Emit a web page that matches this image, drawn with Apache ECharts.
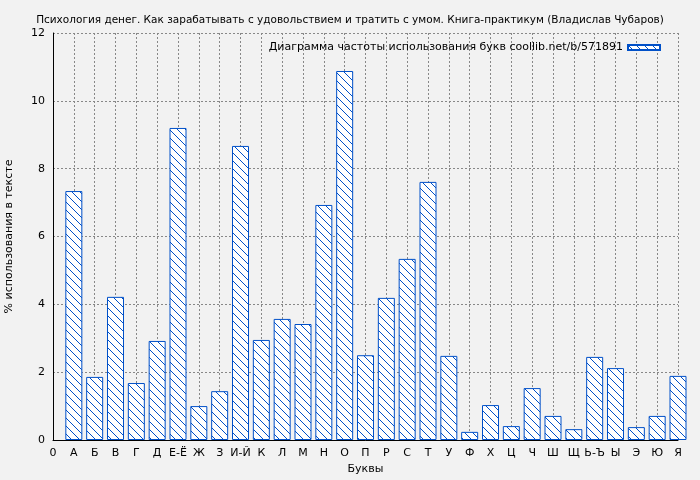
<!DOCTYPE html>
<html><head><meta charset="utf-8">
<script src="https://cdn.jsdelivr.net/npm/echarts@6/dist/echarts.min.js"></script>
<style>html,body{margin:0;background:#f2f2f2}#c{width:700px;height:480px}</style>
</head><body><div id="c"></div>
<script>
var letters = ['0','А','Б','В','Г','Д','Е-Ё','Ж','З','И-Й','К','Л','М','Н','О','П','Р','С','Т','У','Ф','Х','Ц','Ч','Ш','Щ','Ь-Ъ','Ы','Э','Ю','Я'];
var values = [7.34,1.86,4.22,1.68,2.92,9.2,1.0,1.44,8.67,2.95,3.57,3.42,6.93,10.88,2.5,4.19,5.34,7.61,2.48,0.24,1.03,0.41,1.53,0.71,0.32,2.45,2.12,0.38,0.71,1.89];

// hatch pattern
var pc = document.createElement('canvas');
pc.width = 8; pc.height = 8;
var g = pc.getContext('2d');
g.fillStyle = '#ffffff'; g.fillRect(0, 0, 8, 8);
g.strokeStyle = '#0050c8'; g.lineWidth = 1;
g.beginPath();
g.moveTo(-4, 4); g.lineTo(4, 12);
g.moveTo(0, 0); g.lineTo(8, 8);
g.moveTo(4, -4); g.lineTo(12, 4);
g.stroke();
var hatch = { image: pc, repeat: 'repeat' };

var data = values.map(function (v, i) { return [i + 1, v]; });
var chart = echarts.init(document.getElementById('c'));
chart.setOption({
  backgroundColor: '#f2f2f2',
  animation: false,
  title: {
    text: 'Психология денег. Как зарабатывать с удовольствием и тратить с умом. Книга-практикум (Владислав Чубаров)',
    left: 'center', top: 10,
    textStyle: { fontSize: 10.5, fontWeight: 'normal', color: '#000', fontFamily: 'DejaVu Sans' }
  },
  legend: {
    top: 37, right: 34, itemWidth: 32, itemHeight: 5, align: 'right',
    textStyle: { fontSize: 11, color: '#000', fontFamily: 'DejaVu Sans' },
    data: [{ name: 'Диаграмма частоты использования букв coollib.net/b/571891', icon: 'rect' }]
  },
  grid: { left: 53, right: 22, top: 33, bottom: 40, outerBoundsMode: 'none' },
  xAxis: {
    type: 'value', min: 0, max: 30, interval: 1,
    name: 'Буквы', nameLocation: 'middle', nameGap: 24,
    nameTextStyle: { fontSize: 11, color: '#000', fontFamily: 'DejaVu Sans' },
    axisLine: { lineStyle: { color: '#000' } },
    axisTick: { show: false },
    axisLabel: { color: '#000', fontSize: 11, fontFamily: 'DejaVu Sans', formatter: function (v) { return letters[v]; } },
    splitLine: { show: true, lineStyle: { color: '#888', type: [2, 2] } }
  },
  yAxis: {
    type: 'value', min: 0, max: 12, interval: 2,
    name: '% использования в тексте', nameLocation: 'middle', nameGap: 38,
    nameTextStyle: { fontSize: 11, color: '#000', fontFamily: 'DejaVu Sans' },
    axisLine: { show: true, lineStyle: { color: '#000' } },
    axisTick: { show: false },
    axisLabel: { color: '#000', fontSize: 11, fontFamily: 'DejaVu Sans' },
    splitLine: { show: true, lineStyle: { color: '#888', type: [2, 2] } }
  },
  series: [{
    name: 'Диаграмма частоты использования букв coollib.net/b/571891',
    type: 'bar', barWidth: 17, data: data, clip: true,
    itemStyle: { color: hatch, borderColor: '#0050c8', borderWidth: 1 }
  }]
});
</script></body></html>
